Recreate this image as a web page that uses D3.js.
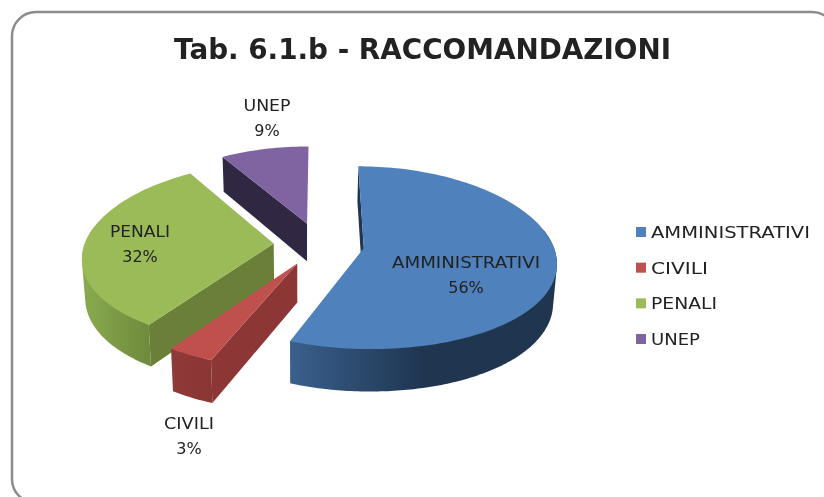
<!DOCTYPE html>
<html><head><meta charset="utf-8">
<script src="https://cdnjs.cloudflare.com/ajax/libs/d3/7.8.5/d3.min.js"></script>
<style>html,body{margin:0;background:#fff}svg{display:block;filter:blur(0.45px)}text{font-family:"DejaVu Sans",sans-serif;fill:#222}</style>
</head><body><svg id="c" width="824" height="497"></svg>
<script>
const categories=["AMMINISTRATIVI","CIVILI","PENALI","UNEP"];
const values=[56.0,3.4,31.85,8.75];
const topColors=["#4f81bd","#c0504d","#9bbb59","#8064a2"];
const radialColors=["#1f3550","#8c3736","#6a7f38","#302742"];
const wallFrom=["#3a608c","#8f3a38","#8aab50","#302742"];
const wallTo=["#1f3550","#8a3634","#6f8a3c","#302742"];
const title="Tab. 6.1.b - RACCOMANDAZIONI";
const labelWidths=[148,50,60,47];
const legendWidths=[159,57,66,49];

const svg=d3.select("#c");
const defs=svg.append("defs");
const R=189,RY=89.5,persX=0.14,persY=0.105,explode=0.24,cx=319,cy=244;
const project=(X,Y)=>[cx+R*X/(1-persX*Y),cy+RY*Y/(1-persY*Y)];
const depthOf=([x,y])=>[300+(x-300)*0.985,y+28.5+0.04*y];

svg.append("rect").attr("x",12).attr("y",12).attr("width",824).attr("height",491)
 .attr("rx",24).attr("fill","#fff").attr("stroke","#8c8c8c").attr("stroke-width",2.5);
svg.append("text").attr("x",422.5).attr("y",59).attr("text-anchor","middle")
 .attr("font-size",28.5).attr("font-weight","bold")
 .attr("textLength",497).attr("lengthAdjust","spacingAndGlyphs").text(title);

const arcs=d3.pie().sort(null)(values);
const line=d3.line();
const slices=arcs.map((a,i)=>{
  const mid=(a.startAngle+a.endAngle)/2;
  const ox=explode*Math.sin(mid),oy=-explode*Math.cos(mid);
  const pt=t=>project(ox+Math.sin(t),oy-Math.cos(t));
  const apex=project(ox,oy);
  const n=Math.max(6,Math.ceil((a.endAngle-a.startAngle)*40));
  const arcPts=(t0,t1)=>d3.range(n+1).map(k=>pt(t0+(t1-t0)*k/n));
  return {a,i,pt,apex,arcPts};
});
[3,2,0,1].forEach(i=>{
  const s=slices[i],g=svg.append("g");
  const a0=s.a.startAngle,a1=s.a.endAngle;
  const st=s.pt(a0);
  g.append("path").attr("fill",radialColors[i])
   .attr("d",line([s.apex,st,depthOf(st),depthOf(s.apex)])+"Z");
  // outer wall, taken as the hull of the top and bottom rims so it meets the silhouette
  const w0=Math.max(a0,Math.PI/2-0.2),w1=Math.min(a1,Math.PI*1.5+0.2);
  if(w1>w0){
    const pts=s.arcPts(w0,w1);
    const hull=d3.polygonHull(pts.concat(pts.map(depthOf)));
    const xs=pts.map(p=>p[0]);
    const id="w"+i;
    const gr=defs.append("linearGradient").attr("id",id).attr("gradientUnits","userSpaceOnUse")
      .attr("x1",d3.min(xs)).attr("x2",d3.max(xs)).attr("y1",0).attr("y2",0);
    gr.append("stop").attr("offset",0).attr("stop-color",wallFrom[i]);
    gr.append("stop").attr("offset",i===0?0.5:1).attr("stop-color",wallTo[i]);
    g.append("path").attr("fill",`url(#${id})`).attr("d",line(hull)+"Z");
  }
  g.append("path").attr("fill",topColors[i])
   .attr("d",line([s.apex].concat(s.arcPts(a0,a1)))+"Z");
});

const labelX=[466,189,140,267],labelY=[268,429,237,111];
const labelGap=25;
categories.forEach((c,i)=>{
  const t=svg.append("text").attr("text-anchor","middle").attr("font-size",16);
  t.append("tspan").attr("x",labelX[i]).attr("y",labelY[i]).attr("textLength",labelWidths[i]).attr("lengthAdjust","spacingAndGlyphs").text(c);
  t.append("tspan").attr("x",labelX[i]).attr("y",labelY[i]+labelGap).text(Math.round(values[i])+"%");
});
const legendY=d3.scalePoint().domain(categories).range([232,339]);
categories.forEach((c,i)=>{
  svg.append("rect").attr("x",636).attr("y",legendY(c)-5).attr("width",10).attr("height",10).attr("fill",topColors[i]);
  svg.append("text").attr("x",651).attr("y",legendY(c)+6).attr("font-size",16.5)
   .attr("textLength",legendWidths[i]).attr("lengthAdjust","spacingAndGlyphs").text(c);
});
</script></body></html>
